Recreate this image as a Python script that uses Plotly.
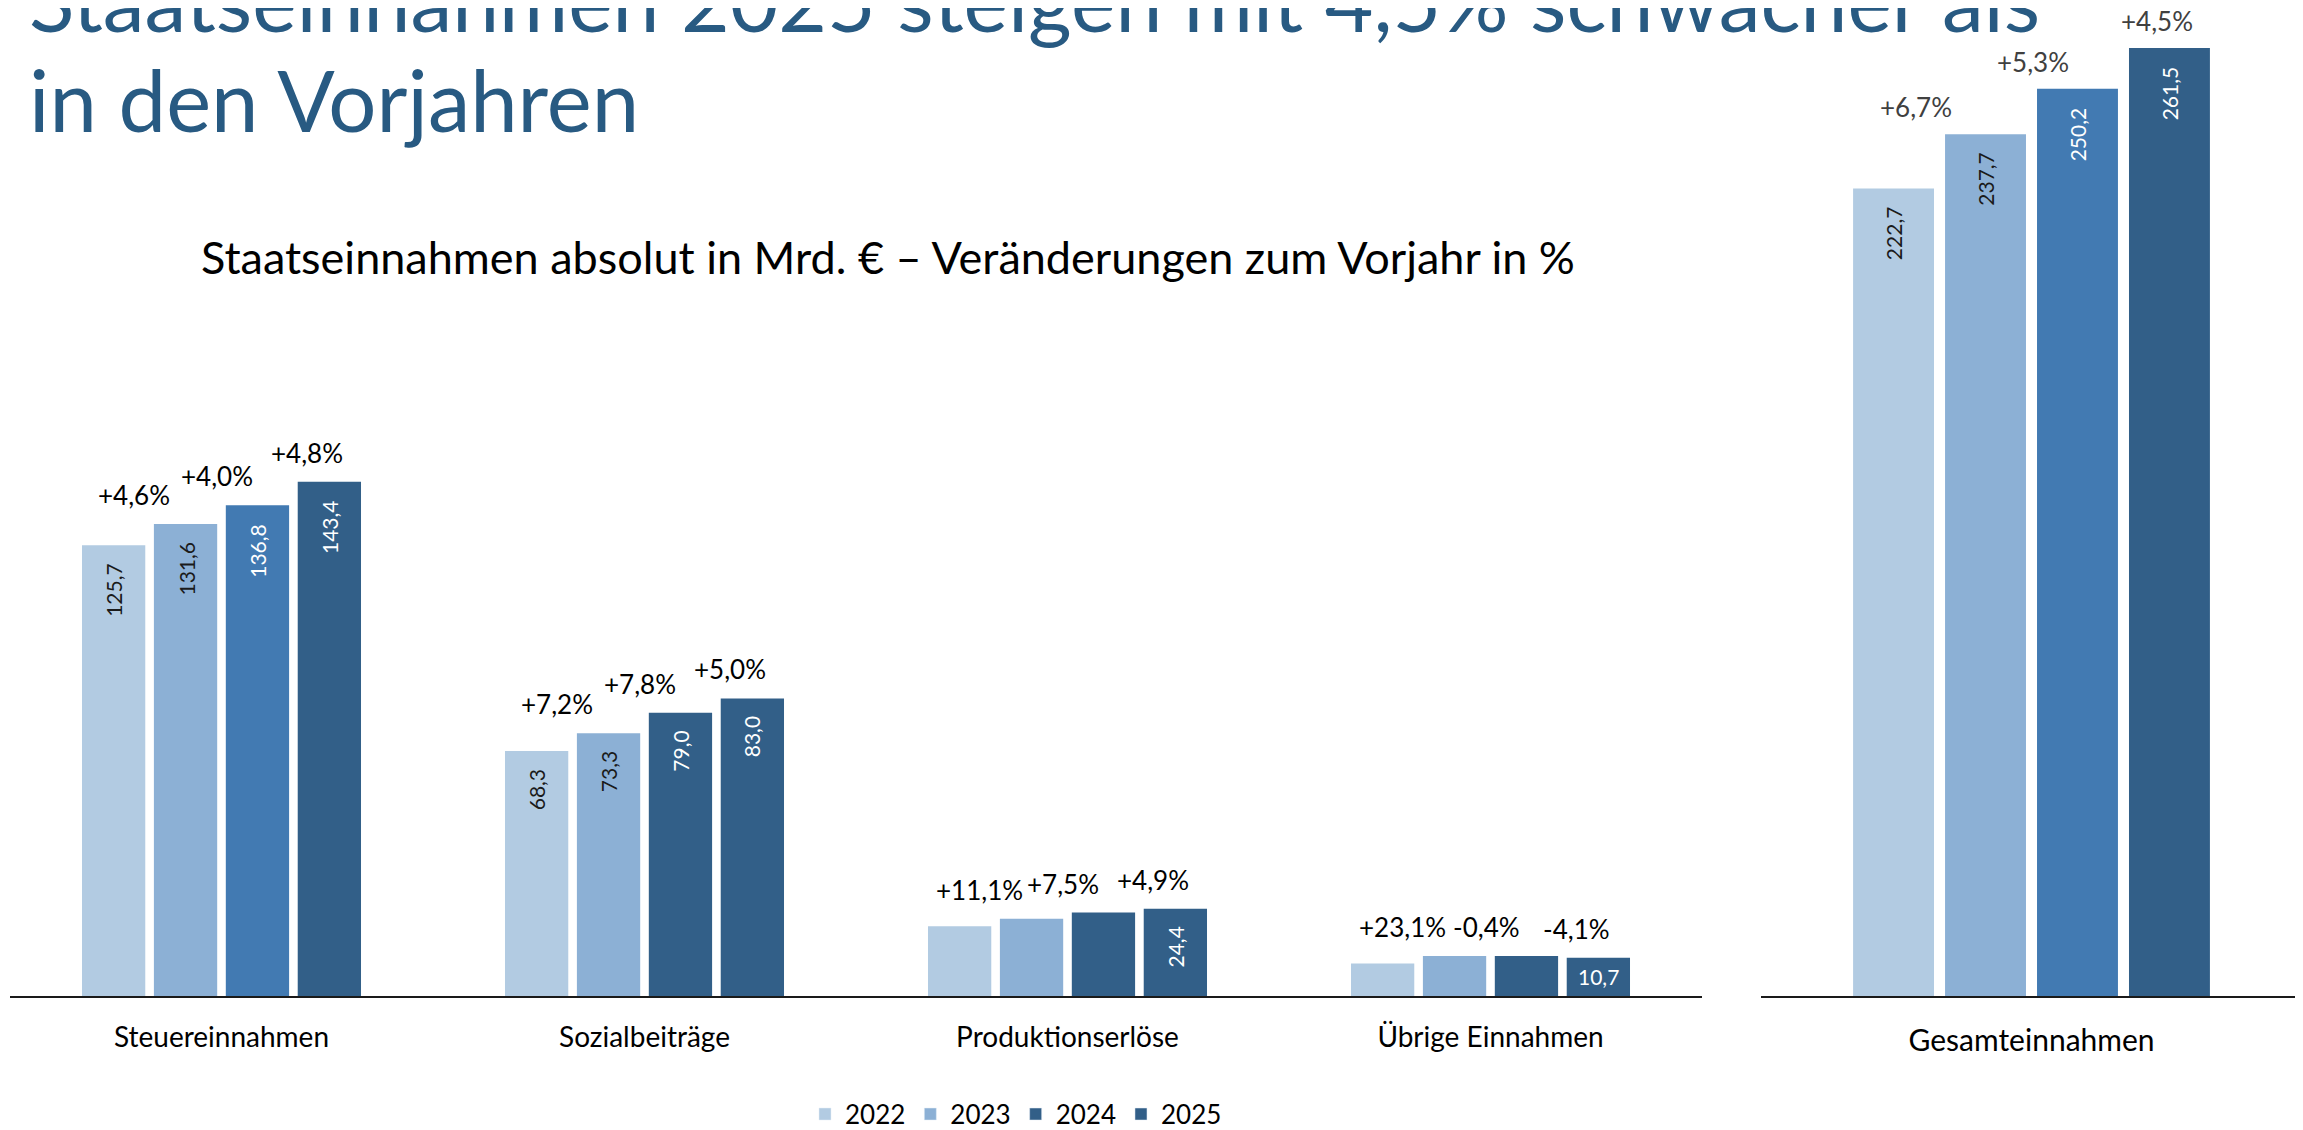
import plotly.graph_objects as go

# ---------------- data ----------------
categories = ["Steuereinnahmen", "Sozialbeiträge", "Produktionserlöse", "Übrige Einnahmen"]
years = ["2022", "2023", "2024", "2025"]
v2022 = [125.7, 68.3, 19.5, 9.1]
v2023 = [131.6, 73.3, 21.6, 11.2]
v2024 = [136.8, 79.0, 23.3, 11.2]
v2025 = [143.4, 83.0, 24.4, 10.7]
pct2023 = ["+4,6%", "+7,2%", "+11,1%", "+23,1%"]
pct2024 = ["+4,0%", "+7,8%", "+7,5%", "-0,4%"]
pct2025 = ["+4,8%", "+5,0%", "+4,9%", "-4,1%"]
show_val = [True, True, False, False]          # rotated value labels per category (2022-2024)
show_val_2025 = [True, True, True, False]      # rotated value labels for 2025
flat_val_2025 = [False, False, False, True]    # horizontal value label for 2025

total_cat = ["Gesamteinnahmen"]
totals = [222.7, 237.7, 250.2, 261.5]
pct_total = [None, "+6,7%", "+5,3%", "+4,5%"]

title_l1 = "Staatseinnahmen 2025 steigen mit 4,5% schwächer als"
title_l2 = "in den Vorjahren"
subtitle = "Staatseinnahmen absolut in Mrd. € – Veränderungen zum Vorjahr in %"

# ---------------- style ----------------
C22, C23, C24, C25 = "#B2CBE2", "#8CB0D5", "#427AB2", "#325F88"
left_2024_colors = [C24, C25, C25, C25]
W, H = 2303, 1130
FONT = "Lato, Open Sans, sans-serif"


def fmt(v):
    return f"{v:.1f}".replace(".", ",")


fig = go.Figure()

left_series = [
    (v2022, C22, "#1a1a1a", show_val),
    (v2023, C23, "#1a1a1a", show_val),
    (v2024, left_2024_colors, "white", show_val),
    (v2025, C25, "white", show_val_2025),
]
for yr, (vals, col, tcol, flags) in zip(years, left_series):
    fig.add_trace(go.Bar(
        x=categories, y=vals, name=yr, marker_color=col, marker_line_width=0,
        showlegend=False, hoverinfo="skip", xaxis="x", yaxis="y",
    ))

right_colors = [C22, C23, C24, C25]
right_tcol = ["#1a1a1a", "#1a1a1a", "white", "white"]
for i, yr in enumerate(years):
    fig.add_trace(go.Bar(
        x=total_cat, y=[totals[i]], name=yr, marker_color=right_colors[i], marker_line_width=0,
        showlegend=False, hoverinfo="skip", xaxis="x2", yaxis="y2",
    ))

# legend-only traces (legend colours as in the original)
legend_colors = [C22, C23, C25, C25]
for yr, col in zip(years, legend_colors):
    fig.add_trace(go.Bar(x=[None], y=[None], name=yr, marker_color=col,
                         xaxis="x3", yaxis="y3", showlegend=True))

# ---------------- geometry ----------------
BARGAP = 0.32
GROUPGAP = 0.12
x_dom = [2 / W, 1694 / W]
x2_dom = [1753 / W, 2294 / W]
base_frac = (H - 997) / H
cat_px_left = (x_dom[1] - x_dom[0]) * W / len(categories)
cat_px_right = (x2_dom[1] - x2_dom[0]) * W
slot_left = cat_px_left * (1 - BARGAP) / 4
slot_right = cat_px_right * (1 - BARGAP) / 4
VAL_PAD = 17

annotations = []
# rotated value labels inside the bars (left)
for k, (vals, col, tcol, flags) in enumerate(left_series):
    for c, v, f in zip(categories, vals, flags):
        if f:
            annotations.append(dict(
                x=c, y=v, xref="x", yref="y", text=fmt(v), showarrow=False,
                textangle=-90, xshift=(k - 1.5) * slot_left, yshift=-VAL_PAD,
                yanchor="top", borderpad=0, font=dict(family=FONT, size=21, color=tcol),
            ))
# horizontal value label
for c, v, f in zip(categories, v2025, flat_val_2025):
    if f:
        annotations.append(dict(
            x=c, y=v / 2, xref="x", yref="y", text=fmt(v), showarrow=False,
            xshift=1.5 * slot_left, yanchor="middle",
            font=dict(family=FONT, size=21, color="white"),
        ))
# rotated value labels (right)
for k, v in enumerate(totals):
    annotations.append(dict(
        x=total_cat[0], y=v, xref="x2", yref="y2", text=fmt(v), showarrow=False,
        textangle=-90, xshift=(k - 1.5) * slot_right, yshift=-VAL_PAD,
        yanchor="top", borderpad=0, font=dict(family=FONT, size=21, color=right_tcol[k]),
    ))
# percentage labels left
pct_shift_left = [-52, -40, -22]
for j, (pl, vals) in enumerate([(pct2023, v2023), (pct2024, v2024), (pct2025, v2025)]):
    k = j + 1
    for c, p, v in zip(categories, pl, vals):
        annotations.append(dict(
            x=c, y=v, xref="x", yref="y", text=p, showarrow=False,
            xshift=(k - 1.5) * slot_left + pct_shift_left[j], yshift=11,
            yanchor="bottom", font=dict(family=FONT, size=26, color="black"),
        ))
# percentage labels right
pct_shift_right = [None, -70, -44, -12]
for k, p in enumerate(pct_total):
    if p:
        annotations.append(dict(
            x=total_cat[0], y=totals[k], xref="x2", yref="y2", text=p, showarrow=False,
            xshift=(k - 1.5) * slot_right + pct_shift_right[k], yshift=10, borderpad=0,
            yanchor="bottom", font=dict(family=FONT, size=26, color="#404040"),
        ))
# titles
annotations.append(dict(x=20 / W, y=1 - 43 / H, xref="paper", yref="paper", xanchor="left",
                        yanchor="bottom", text=title_l1, showarrow=False, borderpad=0,
                        font=dict(family=FONT, size=84, color="#285A82")))
annotations.append(dict(x=20 / W, y=1 - 144 / H, xref="paper", yref="paper", xanchor="left",
                        yanchor="bottom", text=title_l2, showarrow=False, borderpad=0,
                        font=dict(family=FONT, size=85, color="#285A82")))
annotations.append(dict(x=880 / W, y=1 - 251 / H, xref="paper", yref="paper", xanchor="center",
                        yanchor="middle", text=subtitle, showarrow=False,
                        font=dict(family=FONT, size=45, color="black")))

fig.update_layout(
    width=W, height=H, margin=dict(l=0, r=0, t=0, b=0),
    paper_bgcolor="white", plot_bgcolor="white",
    barmode="group", bargap=BARGAP, bargroupgap=GROUPGAP,
    font=dict(family=FONT, color="black"),
    xaxis=dict(domain=x_dom, anchor="y", showline=True, linecolor="#1a1a1a", linewidth=2,
               ticks="", showgrid=False, tickfont=dict(family=FONT, size=28, color="black"),
               ticklabelstandoff=15, fixedrange=True),
    yaxis=dict(domain=[base_frac, 1], range=[0, 997 / 3.62], visible=False, showgrid=False),
    xaxis2=dict(domain=x2_dom, anchor="y2", showline=True, linecolor="#1a1a1a", linewidth=2,
                ticks="", showgrid=False, tickfont=dict(family=FONT, size=30, color="black"),
                ticklabelstandoff=17),
    yaxis2=dict(domain=[base_frac, 1], range=[0, 272.5], visible=False, showgrid=False,
                anchor="x2"),
    xaxis3=dict(domain=[0, 0.01], visible=False, anchor="y3"),
    yaxis3=dict(domain=[0, 0.01], visible=False, anchor="x3"),
    legend=dict(orientation="h", x=1008 / W, xanchor="center", y=14 / H, yanchor="middle",
                font=dict(family=FONT, size=26, color="black"),
                bgcolor="rgba(0,0,0,0)"),
    annotations=annotations,
)

fig.write_html("out.html")
